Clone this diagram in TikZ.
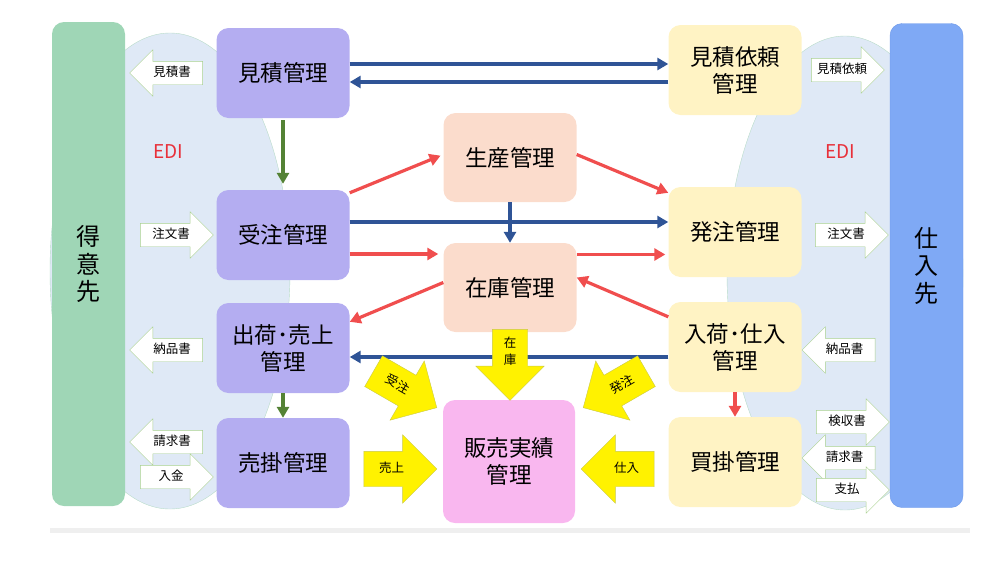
\documentclass[tikz,border=0pt]{standalone}
\usepackage{fontspec}
\setmainfont{Noto Sans CJK JP}
\usetikzlibrary{shapes.arrows, arrows.meta}
\definecolor{tokuigreen}{HTML}{9FD6B6}
\definecolor{shiireblue}{HTML}{7FA9F5}
\definecolor{shiireedge}{HTML}{6D98E8}
\definecolor{edifill}{HTML}{DFE9F6}
\definecolor{ediedge}{HTML}{B9DCC9}
\definecolor{kanripurple}{HTML}{B4ADF1}
\definecolor{kanriyellow}{HTML}{FFF3C4}
\definecolor{kanripeach}{HTML}{FBDCCC}
\definecolor{kanripink}{HTML}{F9B7EF}
\definecolor{lineblue}{HTML}{2F5496}
\definecolor{linered}{HTML}{F04E4E}
\definecolor{linegreen}{HTML}{548235}
\definecolor{docgreen}{HTML}{A9D18E}
\definecolor{flowedge}{HTML}{C9C94A}
\definecolor{edired}{HTML}{E8303A}
\definecolor{groundgray}{HTML}{EFEFEF}
\tikzstyle{column}=[rounded corners=12pt, minimum width=73pt, minimum height=484pt, align=center, font=\fontsize{24}{27.5}\selectfont, inner sep=0pt]
\tikzstyle{kanri}=[rounded corners=12pt, minimum width=133pt, minimum height=90pt, align=center, font=\fontsize{22.5}{27}\selectfont, inner sep=0pt]
\tikzstyle{doc}=[single arrow, draw=docgreen, fill=white, single arrow head extend=11.5pt, minimum height=73pt, text height=9pt, text depth=2pt, inner ysep=6pt, inner xsep=3pt, font=\fontsize{12.5}{12.5}\selectfont]
\tikzstyle{docleft}=[doc, shape border rotate=180]
\tikzstyle{flow}=[single arrow, draw=flowedge, fill=yellow, single arrow head extend=16.5pt, minimum height=73pt, text height=10pt, text depth=3pt, inner ysep=11pt, inner xsep=3pt, font=\fontsize{12.5}{12.5}\selectfont]
\tikzstyle{blueline}=[draw=lineblue, line width=3.2pt, -{Triangle[length=11pt,width=12pt]}]
\tikzstyle{redline}=[draw=linered, line width=3.2pt, -{Triangle[length=11pt,width=12pt]}]
\tikzstyle{greenline}=[draw=linegreen, line width=3.6pt, -{Triangle[length=11pt,width=12pt]}]
\begin{document}
\begin{tikzpicture}[x=1pt, y=-1pt]
\useasboundingbox (0,0) rectangle (1000,576);
% EDI areas
    \draw[fill=edifill, draw=ediedge] (170,271) ellipse [x radius=120, y radius=238];
    \draw[fill=edifill, draw=ediedge] (845,273) ellipse [x radius=118, y radius=237];
    \node[text=edired, font=\fontsize{19}{19}\selectfont] (edileft) at (168,152) {EDI};
    \node[text=edired, font=\fontsize{19}{19}\selectfont] (ediright) at (840,152) {EDI};
    \draw[groundgray, line width=5pt] (50,530) -- (970,530);

% Partners
    \node[column, fill=tokuigreen] (tokui) at (88.5,264) {得\\意\\先};
    \node[column, fill=shiireblue, draw=shiireedge] (shiire) at (926.5,265.5) {仕\\入\\先};

% Sales side
    \node[kanri, fill=kanripurple] (mitsumori) at (283,73) {見積管理};
    \node[kanri, fill=kanripurple] (juchu) at (283,235) {受注管理};
    \node[kanri, fill=kanripurple] (shukka) at (283,348) {出荷･売上\\管理};
    \node[kanri, fill=kanripurple] (urikake) at (283,463) {売掛管理};

% Purchase side
    \node[kanri, fill=kanriyellow] (irai) at (735,70) {見積依頼\\管理};
    \node[kanri, fill=kanriyellow] (hatchu) at (735,232) {発注管理};
    \node[kanri, fill=kanriyellow] (nyuka) at (735,347) {入荷･仕入\\管理};
    \node[kanri, fill=kanriyellow] (kaikake) at (735,462) {買掛管理};

% Center
    \node[kanri, fill=kanripeach, minimum height=89pt] (seisan) at (510,157.5) {生産管理};
    \node[kanri, fill=kanripeach, minimum height=89pt] (zaiko) at (510,287.5) {在庫管理};
    \node[kanri, fill=kanripink, minimum width=132pt, minimum height=123pt] (hanbai) at (509,461.5) {販売実績\\管理};

% Blue flows
    \draw[blueline] ([yshift=9pt]mitsumori.east) -- ([yshift=9pt]mitsumori.east -| irai.west);
    \draw[blueline] ([yshift=-9pt]mitsumori.east -| irai.west) -- ([yshift=-9pt]mitsumori.east);
    \draw[blueline] ([yshift=13pt]juchu.east) -- ([yshift=13pt]juchu.east -| hatchu.west);
    \draw[blueline] (seisan.south) -- (zaiko.north);
    \draw[blueline] ([yshift=-10pt]nyuka.west) -- ([yshift=-10pt]nyuka.west -| shukka.east);

% Red flows
    \draw[redline, shorten >=3pt] ([yshift=-3pt]juchu.north east) -- ([yshift=3pt]seisan.west);
    \draw[redline] ([yshift=3pt]seisan.east) -- ([yshift=-6pt]hatchu.north west);
    \draw[redline, shorten >=5pt] ([yshift=-19pt]juchu.east) -- ([yshift=-19pt]juchu.east -| zaiko.west);
    \draw[redline, shorten >=3pt] ([yshift=33pt]zaiko.east) -- ([yshift=33pt]zaiko.east -| hatchu.west);
    \draw[redline] ([yshift=5pt]zaiko.west) -- ([yshift=-19pt]shukka.north east);
    \draw[redline] ([yshift=-15pt]nyuka.north west) -- ([yshift=10pt]zaiko.east);
    \draw[redline] (nyuka.south) -- (kaikake.north);

% Green flows
    \draw[greenline, shorten >=6pt, shorten <=2pt] (mitsumori.south) -- (juchu.north);
    \draw[greenline] (shukka.south) -- (urikake.north);

% Documents with customers
    \node[docleft] (mitsumorisho) at (172,73) {見積書};
    \node[doc] (chumonsho) at (171,235) {注文書};
    \node[docleft] (nohinsho) at (172,350) {納品書};
    \node[docleft] (seikyusho) at (172,442) {請求書};
    \node[doc] (nyukin) at (171,477) {入金};

% Documents with suppliers
    \node[doc] (iraisho) at (842,70) {見積依頼};
    \node[doc] (hatchusho) at (846,235) {注文書};
    \node[docleft] (ukeiresho) at (844.5,350) {納品書};
    \node[doc] (kenshusho) at (847,422) {検収書};
    \node[docleft] (shiireseikyu) at (844.5,458) {請求書};
    \node[doc] (shiharai) at (847,490) {支払};

% Into results
    \node[flow, shape border rotate=270, minimum height=71pt, text width=14pt, inner xsep=10.5pt] (zaikoflow) at (510,356) {};
    \node[font=\fontsize{12.5}{17}\selectfont, align=center, inner sep=0pt] (zaikolabel) at (510,351.5) {在\\庫};
    \node[flow, rotate=-30] (juchuflow) at (397.5,385) {受注};
    \node[flow, rotate=30, shape border rotate=180] (hatchuflow) at (622.5,385) {発注};
    \node[flow] (uriageflow) at (391.5,469) {売上};
    \node[flow, shape border rotate=180] (shiireflow) at (626.5,469) {仕入};

\end{tikzpicture}
\end{document}
